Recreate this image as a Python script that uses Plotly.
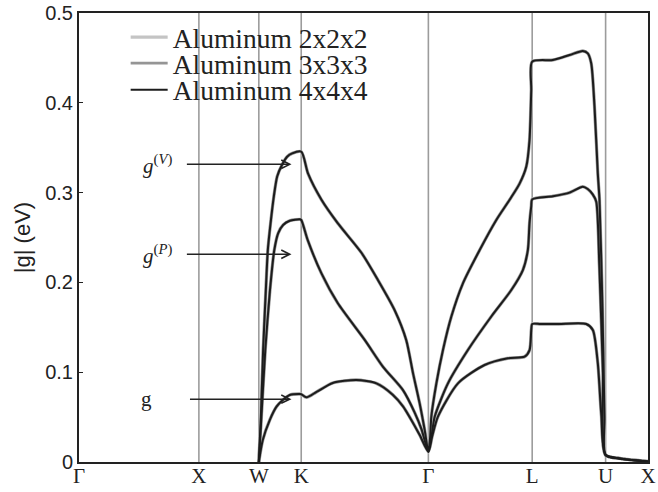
import plotly.graph_objects as go

# high-symmetry path (FCC), path coordinate in units of 2*pi/a
path_labels = ["Γ", "X", "W", "K", "Γ", "L", "U", "X"]
path_pos = [0.0, 1.0, 1.5, 1.8536, 2.9142, 3.7802, 4.3926, 4.7462]

# |g^(V)|
gV_k = [1.5, 1.517, 1.536, 1.558, 1.575, 1.598, 1.625, 1.653, 1.694, 1.736, 1.778, 1.8536,
        1.911, 2.0225, 2.158, 2.356, 2.492, 2.633, 2.729, 2.786, 2.842, 2.883, 2.9142,
        2.9292, 2.939, 2.981, 3.036, 3.106, 3.2025, 3.342, 3.481, 3.592, 3.675, 3.731, 3.758, 3.7725, 3.7802,
        3.9525, 4.0917, 4.2025, 4.244, 4.2725, 4.30, 4.3275, 4.3417, 4.3667, 4.3833, 4.3926, 4.508, 4.7462]
gV_val = [0, 0.05, 0.125, 0.19, 0.236, 0.266, 0.2955, 0.318, 0.331, 0.340, 0.3437, 0.3456,
          0.321, 0.292, 0.266, 0.233, 0.203, 0.169, 0.136, 0.099, 0.065, 0.036, 0.0115,
          0.028, 0.0505, 0.0876, 0.1247, 0.162, 0.199, 0.236, 0.2695, 0.292, 0.310, 0.329, 0.3586, 0.414, 0.4458,
          0.4477, 0.4532, 0.4577, 0.455, 0.444, 0.3957, 0.3215, 0.2918, 0.17, 0.05, 0.0078, 0.004, 0.0005]

# |g^(P)|
gP_k = [1.5, 1.517, 1.554, 1.592, 1.629, 1.661, 1.7025, 1.758, 1.842, 1.8536,
        1.908, 2.0225, 2.158, 2.383, 2.536, 2.7025, 2.8, 2.858, 2.9142,
        2.94, 2.967, 3.0775, 3.244, 3.439, 3.606, 3.7025, 3.744, 3.758, 3.7725, 3.7802,
        3.9525, 4.0917, 4.2025, 4.244, 4.285, 4.3142, 4.34, 4.37, 4.3926, 4.508, 4.7462]
gP_val = [0, 0.04, 0.125, 0.19, 0.236, 0.2547, 0.264, 0.2687, 0.2702, 0.2695,
          0.247, 0.210, 0.177, 0.136, 0.106, 0.080, 0.055, 0.036, 0.0115,
          0.028, 0.0505, 0.0876, 0.1247, 0.162, 0.1915, 0.2138, 0.236, 0.266, 0.285, 0.2925,
          0.296, 0.300, 0.3066, 0.304, 0.298, 0.29, 0.22, 0.1, 0.0078, 0.004, 0.0005]

# |g|
g_k = [1.5, 1.533, 1.592, 1.6475, 1.70, 1.758, 1.842, 1.8536,
       1.8975, 1.981, 2.1167, 2.314, 2.481, 2.6167, 2.7025, 2.767, 2.842, 2.9142,
       2.945, 2.994, 3.161, 3.383, 3.5775, 3.7167, 3.7583, 3.7725, 3.7802,
       3.85, 4.0, 4.231, 4.286, 4.3275, 4.3558, 4.3926, 4.508, 4.7462]
g_val = [0, 0.0245, 0.047, 0.0616, 0.069, 0.0746, 0.0757, 0.0755,
         0.072, 0.078, 0.088, 0.0913, 0.0876, 0.075, 0.062, 0.048, 0.030, 0.0115,
         0.028, 0.0505, 0.0876, 0.108, 0.1155, 0.1173, 0.1247, 0.147, 0.1537,
         0.1537, 0.1537, 0.1537, 0.147, 0.11, 0.054, 0.0078, 0.004, 0.0005]

series_names = ["Aluminum 2x2x2", "Aluminum 3x3x3", "Aluminum 4x4x4"]

# arrows/labels
arrow_labels = ["<i>g</i><sup>(<i>V</i>)</sup>", "<i>g</i><sup>(<i>P</i>)</sup>", "g"]
arrow_y = [0.3315, 0.2313, 0.070]
label_x = [0.658, 0.658, 0.567]
arrow_to = 1.7725

# ---- styling ----
colors = ["#c4c4c4", "#959595", "#1c1c1c"]
widths = [3.4, 2.8, 2.0]
legend_ids = ["legend", "legend2", "legend3"]
legend_y = [0.946, 0.888, 0.829]

fig = go.Figure()
curves = [(g_k, g_val), (gP_k, gP_val), (gV_k, gV_val)]
for si, name in enumerate(series_names):
    for ci, (kx, vy) in enumerate(curves):
        fig.add_trace(go.Scatter(
            x=kx, y=vy, mode="lines", name=name,
            line=dict(color=colors[si], width=widths[si], shape="spline", smoothing=0.7),
            legendgroup=name, showlegend=(ci == 0), legend=legend_ids[si],
            hoverinfo="skip"))

# vertical lines at interior high-symmetry points
for p in path_pos[1:-1]:
    fig.add_shape(type="line", x0=p, x1=p, y0=0, y1=1, xref="x", yref="paper",
                  line=dict(color="#9c9c9c", width=1.6), layer="below")

for lab, yv, lx in zip(arrow_labels, arrow_y, label_x):
    upright = not lab.startswith("<i>")
    fig.add_annotation(x=arrow_to, y=yv, ax=lx, ay=yv, xref="x", yref="y",
                       axref="x", ayref="y", text=lab, showarrow=True,
                       startstandoff=13 if not upright else 36,
                       arrowhead=5, arrowsize=1.1, arrowwidth=1.5, arrowcolor="#222",
                       font=dict(family="Liberation Serif", size=21, color="#222"))

legend_common = dict(font=dict(family="Liberation Serif", size=27.5, color="#222"),
                     bgcolor="rgba(0,0,0,0)", borderwidth=0, itemwidth=37,
                     xanchor="left", yanchor="middle", x=0.082)
layout_legends = {}
for lid, ly in zip(legend_ids, legend_y):
    layout_legends[lid] = dict(legend_common, y=ly)

fig.update_layout(
    width=658, height=492,
    margin=dict(l=79, r=10, t=13, b=30, autoexpand=False),
    plot_bgcolor="white", paper_bgcolor="white",
    showlegend=True,
    **layout_legends,
    xaxis=dict(range=[0, path_pos[-1]], tickvals=path_pos, ticktext=path_labels,
               ticks="", showgrid=False, zeroline=False, showline=True, mirror=True,
               linecolor="#222", linewidth=2, automargin=False, ticklabelstandoff=-6,
               tickfont=dict(family="Liberation Serif", size=21, color="#222")),
    yaxis=dict(range=[0, 0.5], tickvals=[0, 0.1, 0.2, 0.3, 0.4, 0.5],
               ticktext=["0", "0.1", "0.2", "0.3", "0.4", "0.5"],
               ticks="inside", ticklen=4, tickcolor="#222", automargin=False,
               showgrid=False, zeroline=False, showline=True, mirror=True,
               linecolor="#222", linewidth=2,
               tickfont=dict(family="Liberation Sans", size=20, color="#222"),
               title=dict(text="|g| (eV)", standoff=8,
                          font=dict(family="Liberation Sans", size=22, color="#222"))),
)

fig.write_html("out.html", config={"displayModeBar": False},
               post_script="document.body.style.margin='0';")
